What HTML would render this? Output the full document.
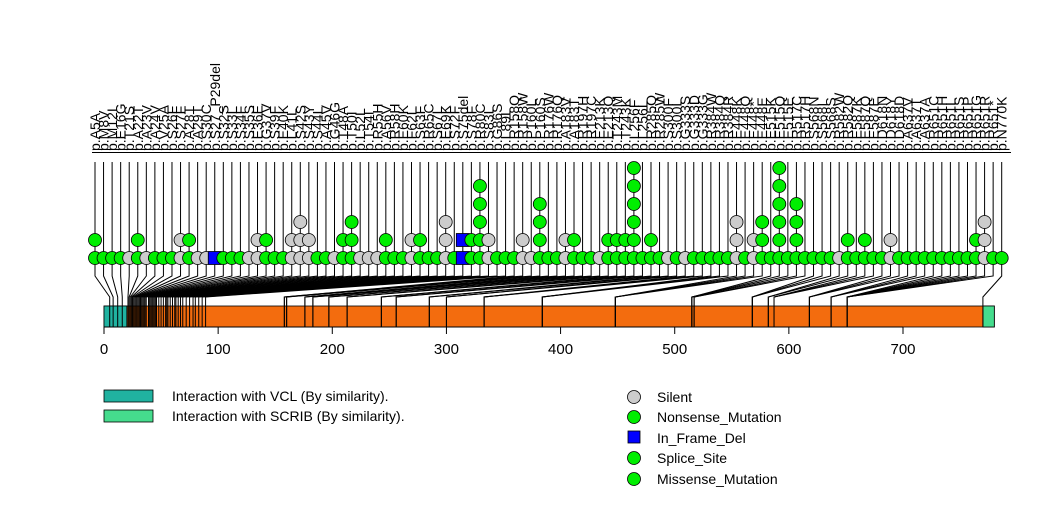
<!DOCTYPE html>
<html><head><meta charset="utf-8"><style>
html,body{margin:0;padding:0;background:#fff;}
svg{display:block;font-family:"Liberation Sans",sans-serif;}
</style></head><body>
<svg id="chart" width="1047" height="524" viewBox="0 0 1047 524">
<g id="connectors"></g>
<g id="bar"></g>
<g id="cols"></g>
<g id="axis"></g>
<g>
<rect x="104" y="390" width="49" height="12" fill="#20B2A0" stroke="#000" stroke-width="0.8"/>
<text x="172" y="401" font-size="14">Interaction with VCL (By similarity).</text>
<rect x="104" y="410" width="49" height="12" fill="#45DC8D" stroke="#000" stroke-width="0.8"/>
<text x="172" y="421" font-size="14">Interaction with SCRIB (By similarity).</text>
</g>
<g>
<circle cx="634" cy="397" r="6.5" fill="#CCCCCC" stroke="#000" stroke-width="0.8"/>
<text x="657" y="402" font-size="14">Silent</text>
<circle cx="634" cy="417" r="6.5" fill="#00EE00" stroke="#000" stroke-width="0.8"/>
<text x="657" y="422" font-size="14">Nonsense_Mutation</text>
<rect x="628" y="431" width="12" height="12" fill="#0000FF" stroke="#000" stroke-width="0.8"/>
<text x="657" y="443" font-size="14">In_Frame_Del</text>
<circle cx="634" cy="458" r="6.5" fill="#00EE00" stroke="#000" stroke-width="0.8"/>
<text x="657" y="463" font-size="14">Splice_Site</text>
<circle cx="634" cy="479" r="6.5" fill="#00EE00" stroke="#000" stroke-width="0.8"/>
<text x="657" y="484" font-size="14">Missense_Mutation</text>
</g>
</svg>
<script>
const labels = ["p.A5A","p.M8V","p.M12I","p.E16G","p.T21S","p.A22T","p.A23V","p.A24V","p.V25A","p.S26F",
"p.S27F","p.A28T","p.A29T","p.S30C","p.S27_P29del","p.S32S","p.S33L","p.S34F","p.S35S","p.E36E",
"p.G37V","p.S39F","p.E40K","p.L41L","p.S42S","p.S43Y","p.S44L","p.A45V","p.G46G","p.T48A",
"p.T50I","p.L52L","p.T54I","p.R55H","p.A56V","p.R58H","p.E60K","p.F62L","p.S63F","p.R65C",
"p.S67L","p.E69K","p.S72F","p.S75del","p.S78F","p.R80C","p.S83L","p.G86S","p.L89L","p.R158Q",
"p.R158W","p.P160L","p.P160S","p.R176W","p.R176Q","p.A183V","p.A183T","p.R197H","p.R197C","p.E213K",
"p.E213Q","p.T243M","p.T243K","p.L256F","p.L256L","p.R285Q","p.R285W","p.S300F","p.S300L","p.G333S",
"p.G333D","p.G333G","p.R384W","p.R384Q","p.R384R","p.E448K","p.E448Q","p.E448*","p.E448E","p.E515K",
"p.E515Q","p.E515E","p.R517C","p.R517H","p.S568N","p.S568I","p.S568S","p.R582W","p.R582Q","p.E587K",
"p.E587Q","p.E587E","p.D618N","p.D618Y","p.D618D","p.A637V","p.A637T","p.A637A","p.R651C","p.R651H",
"p.R651L","p.R651S","p.R651P","p.R651G","p.R651R","p.R651*","p.N770K"];
const positions = [5,8,12,16,21,22,23,24,25,26,27,28,29,30,31,32,33,34,35,36,37,39,40,41,42,43,44,45,46,48,50,52,54,55,56,58,60,62,63,65,67,
69,72,75,78,80,83,86,89,
158,158,160,160,176,176,183,183,197,197,213,213,243,243,256,256,285,285,300,300,
333,333,333,384,384,384,448,448,448,448,515,515,515,517,517,568,568,568,582,582,
587,587,587,618,618,618,637,637,637,651,651,651,651,651,651,651,651,770];
const stacks = ["GG","G","G","G","S","GG","S","G","G","G","SS","GG","S","S","B","G","G","G","S","SS",
"GG","G","G","SS","SSS","SS","G","G","S","GG","GGG","S","S","S","GG","G","G","SS","GG","G",
"G","SSS","G","BB","GG","GGGGG","SS","G","G","G","SS","S","GGGG","G","G","SS","GG","G","G","S",
"GG","GG","GG","GGGGGG","G","GG","G","S","G","S","G","G","G","G","G","SSS","G","SS","GGG","G",
"GGGGGG","G","GGGG","G","G","G","G","S","GG","G","GG","G","G","SS","G","G","G","G","G","G",
"G","G","G","GG","SSS","G","G"];
const domains = [{name:"vcl-domain",start:0,end:20,color:"#20B2A0"},{name:"scrib-domain",start:770,end:780,color:"#45DC8D"}];
const proteinLength = 780;
const ticks = [0,100,200,300,400,500,600,700];

const NS="http://www.w3.org/2000/svg";
const x = v => 104 + v*(903-104)/700;
const colX = i => 95 + i*(1001.7-95)/(labels.length-1);
const level = k => 258 - k*18;
function mk(tag, attrs, parent){const e=document.createElementNS(NS,tag);for(const k in attrs)e.setAttribute(k,attrs[k]);parent.appendChild(e);return e;}
const gc=document.getElementById('connectors'), gb=document.getElementById('bar'), gcols=document.getElementById('cols'), ga=document.getElementById('axis');

let r=mk('rect',{x:x(0),y:306,width:x(proteinLength)-x(0),height:21,fill:'#F36C0E',stroke:'#000','stroke-width':0.8},gb);


domains.forEach(d=>{const e=mk('rect',{x:x(d.start),y:306,width:x(d.end)-x(d.start),height:21,fill:d.color,stroke:'#000','stroke-width':0.8},gb);

});

let bl=mk('line',{x1:92,y1:152.5,x2:1011,y2:152.5,stroke:'#000','stroke-width':1},gcols);



labels.forEach((lab,i)=>{
  const cx=colX(i), px=x(positions[i]);
  const p=mk('polyline',{points:`${cx},162 ${cx},276 ${px},297 ${px},306`,fill:'none',stroke:'#000','stroke-width':1},gc);
  
  
  const m=mk('line',{x1:px,y1:306,x2:px,y2:327,stroke:'#000','stroke-width':1},gb);
  
  
  const t=mk('text',{x:0,y:0,'font-size':14,transform:`translate(${cx+5},151) rotate(-90)`},gcols);
  t.textContent=lab;
  
  
  const s=stacks[i];
  for(let k=0;k<s.length;k++){
    const c=s[k]; let e;
    if(c==='B'){e=mk('rect',{x:cx-6.5,y:level(k)-6.5,width:13,height:13,fill:'#0000FF',stroke:'#000','stroke-width':0.8},gcols);}
    else{e=mk('circle',{cx:cx,cy:level(k),r:6.5,fill:c==='S'?'#CCCCCC':'#00EE00',stroke:'#000','stroke-width':0.8},gcols);}
    
    
  }
});

let al=mk('line',{x1:x(0),y1:327,x2:x(700),y2:327,stroke:'#000','stroke-width':1},ga);


ticks.forEach(v=>{
  const l=mk('line',{x1:x(v),y1:327,x2:x(v),y2:334,stroke:'#000','stroke-width':1},ga);
  
  
  const t=mk('text',{x:x(v),y:354,'font-size':15,'text-anchor':'middle'},ga);
  t.textContent=v;
  
  
});
</script>
</body></html>
